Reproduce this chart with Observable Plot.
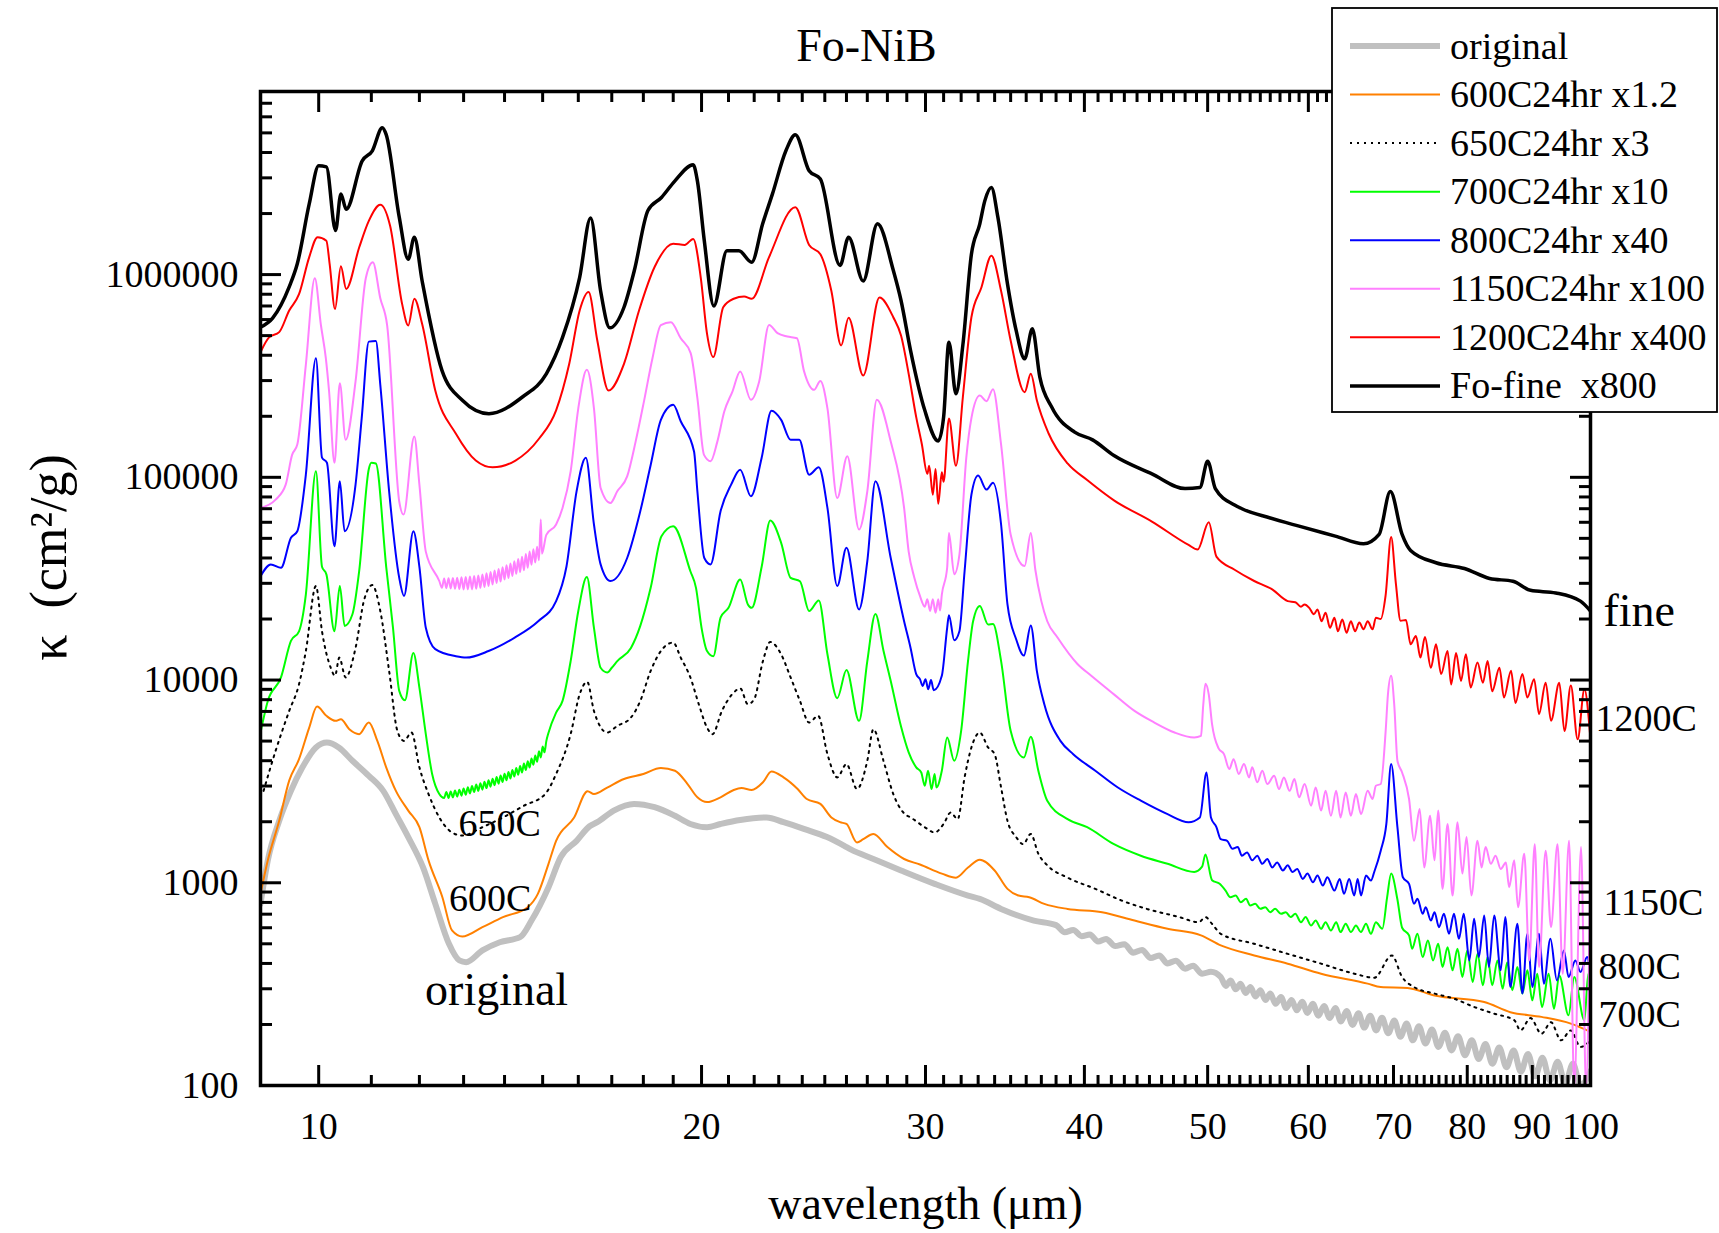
<!DOCTYPE html>
<html><head><meta charset="utf-8">
<script src="https://cdn.jsdelivr.net/npm/d3@7"></script>
<script src="https://cdn.jsdelivr.net/npm/@observablehq/plot@0.6"></script>
<style>body{margin:0;background:#fff;} #chart{width:1719px;height:1233px;}</style>
</head><body><div id="chart"></div>
<script>
// ---------- tick values / labels ----------
const xMajorTicks = [10, 20, 30, 40, 50, 60, 70, 80, 90, 100];
const xTickLabels = ["10", "20", "30", "40", "50", "60", "70", "80", "90", "100"];
const yMajorTicks = [100, 1000, 10000, 100000, 1000000];
const yTickLabels = ["100", "1000", "10000", "100000", "1000000"];

// ---------- series values: [wavelength (um), kappa (cm2/g)] ----------
const original = [[9.0,787],[9.12,1290],[9.31,2020],[9.51,2840],[9.71,3710],[9.95,4650],[10.15,4920],[10.37,4650],[10.63,4000],[10.95,3370],[11.24,2840],[11.5,2180],[11.76,1680],[12.08,1190],[12.35,787],[12.66,500],[12.9,414],[13.06,406],[13.45,464],[13.88,509],[14.4,539],[14.7,651],[15.16,951],[15.5,1340],[15.95,1610],[16.33,1900],[16.56,1990],[17.06,2270],[17.7,2450],[18.37,2360],[19.06,2140],[19.6,1950],[20.2,1880],[20.7,1950],[21.45,2040],[22.5,2100],[23.2,1990],[24.1,1840],[25.1,1680],[25.9,1520],[26.2,1460],[27.3,1310],[28.7,1150],[30.5,988],[32.4,865],[33.1,833],[34.4,743],[36.5,651],[38.0,618],[38.6,570],[39.2,585],[39.8,545],[40.4,556],[41.0,513],[41.6,528],[42.3,487],[43.0,498],[43.7,452],[44.4,466],[45.1,425],[45.8,438],[46.5,400],[47.2,413],[48.0,377],[48.7,390],[49.5,356],[50.3,364],[51.2,343],[51.66,310],[52.13,330],[52.6,298],[53.07,318],[53.55,286],[54.03,306],[54.52,275],[55.01,295],[55.51,264],[56.01,284],[56.55,253],[57.1,273],[57.64,241],[58.2,264],[58.76,235],[59.33,259],[59.9,228],[60.48,253],[61.11,221],[61.73,247],[62.37,215],[63.0,241],[63.65,207],[64.3,233],[65.0,199],[65.7,227],[66.4,193],[67.11,221],[67.83,187],[68.56,216],[69.33,181],[70.1,209],[70.89,174],[71.68,202],[72.49,167],[73.3,196],[74.17,161],[75.05,189],[75.94,155],[76.84,182],[77.75,149],[78.68,175],[79.67,141],[80.66,167],[81.67,135],[82.69,160],[83.72,128],[84.77,154],[85.88,123],[87.0,149],[88.15,117],[89.3,143],[90.47,111],[91.66,137],[92.93,106],[94.22,131],[95.53,102],[96.86,128],[98.21,100],[100,118]];

const c600 = [[9.0,881],[9.12,1290],[9.31,2020],[9.48,3190],[9.65,4070],[9.83,5830],[9.97,7400],[10.14,6660],[10.31,6290],[10.41,6400],[10.57,5720],[10.76,5410],[10.95,6170],[11.12,5010],[11.3,3710],[11.5,2840],[11.76,2270],[12.0,1880],[12.2,1290],[12.51,849],[12.73,582],[12.97,543],[13.45,604],[13.96,677],[14.6,758],[14.87,881],[15.16,1240],[15.37,1610],[15.88,2100],[16.27,2830],[16.46,2740],[16.86,2950],[17.38,3250],[18.0,3440],[18.58,3680],[19.06,3570],[19.5,3070],[19.85,2640],[20.2,2500],[20.7,2640],[21.2,2870],[21.5,2930],[21.9,2870],[22.35,3130],[22.7,3540],[23.2,3310],[23.8,2900],[24.2,2590],[24.8,2450],[25.3,2100],[25.7,1990],[26.0,1950],[26.5,1580],[26.8,1640],[27.3,1740],[28.0,1500],[28.86,1310],[29.7,1230],[30.9,1110],[31.7,1060],[32.4,1190],[33.1,1300],[34.0,1150],[34.8,933],[35.5,865],[36.2,849],[37.2,787],[38.8,743],[41.3,716],[43.8,651],[46.5,593],[49.4,550],[51.2,491],[54.4,438],[57.8,399],[61.4,356],[66.8,318],[68.4,306],[71.8,303],[75.4,278],[82.5,258],[86.5,230],[91.5,218],[96.5,202],[100,184]];

const c650 = [[9.05,2840],[9.25,4480],[9.48,7040],[9.65,9530],[9.77,13900],[9.95,29100],[10.06,17400],[10.22,11500],[10.3,10500],[10.38,12900],[10.5,10300],[10.69,14400],[10.86,25000],[11.02,29400],[11.18,21900],[11.36,11100],[11.53,5620],[11.67,5010],[11.83,5510],[12.0,3710],[12.2,2740],[12.44,2100],[12.73,1770],[12.97,1710],[13.45,1880],[13.96,2100],[14.5,2400],[15.07,2740],[15.37,3440],[15.78,5410],[16.04,8510],[16.26,9800],[16.46,7040],[16.86,5510],[17.17,5940],[17.6,6530],[17.9,7890],[18.24,11100],[18.58,13900],[19.0,15300],[19.26,12900],[19.6,10300],[19.9,7600],[20.2,5830],[20.4,5410],[20.75,7040],[21.2,8670],[21.45,9100],[21.75,7600],[22.0,8040],[22.35,12400],[22.65,15400],[23.1,13400],[23.5,10300],[23.9,7890],[24.3,6170],[24.7,6660],[25.12,4310],[25.57,3310],[26.0,3850],[26.5,2900],[27.0,4000],[27.3,5720],[27.8,4000],[28.3,2740],[28.9,2180],[29.2,2100],[29.96,1880],[30.5,1770],[31.0,1950],[31.4,2220],[31.8,2060],[32.2,3310],[32.6,4650],[33.1,5510],[33.6,4650],[34.0,4310],[34.4,2950],[34.8,2020],[35.35,1680],[35.8,1550],[36.3,1740],[36.8,1390],[37.4,1220],[38.8,1060],[40.8,933],[42.8,817],[44.8,743],[47.5,677],[49.2,639],[49.8,677],[50.4,627],[51.2,560],[54.4,500],[57.8,446],[61.4,399],[65.2,356],[67.6,340],[69.8,438],[71.1,343],[72.65,306],[75.4,284],[78.1,268],[81.0,244],[84.0,226],[87.1,210],[88.1,187],[89.7,215],[91.5,180],[93.1,205],[94.8,167],[96.5,187],[98.2,155],[100,167]];

const c700 = [[9.0,5510],[9.12,7890],[9.34,10300],[9.51,15600],[9.65,17400],[9.77,26400],[9.95,107000],[10.06,36200],[10.14,33200],[10.29,17400],[10.39,29100],[10.48,18500],[10.63,21100],[10.76,34400],[10.95,110000],[11.0,118000],[11.09,117000],[11.3,36200],[11.44,18100],[11.57,8840],[11.69,7950],[11.87,13600],[12.0,9180],[12.14,5410],[12.28,3440],[12.44,2740],[12.55,2620],
[12.6,2800],[12.65,2620],[12.7,2820],[12.75,2640],[12.8,2850],[12.85,2660],[12.9,2880],[12.95,2690],[13.0,2920],[13.05,2720],[13.1,2960],[13.15,2760],[13.2,3000],[13.25,2800],[13.3,3050],[13.35,2840],[13.4,3100],[13.45,2880],[13.5,3150],[13.55,2930],[13.6,3200],[13.65,2980],[13.7,3260],[13.75,3030],[13.8,3320],[13.85,3080],[13.9,3380],[13.95,3140],[14.0,3450],[14.05,3200],[14.1,3520],[14.15,3270],[14.2,3600],[14.25,3340],[14.3,3680],[14.35,3410],[14.4,3770],[14.45,3500],[14.5,3870],[14.55,3600],[14.6,3980],[14.65,3700],[14.7,4100],[14.75,3820],[14.8,4250],[14.85,3950],[14.9,4450],[14.95,4150],[15.0,4700],[15.05,4400],[15.1,5000],[15.16,5500],
[15.37,6910],[15.55,7890],[15.78,12400],[16.0,21900],[16.25,32200],[16.46,18100],[16.66,11500],[16.86,10900],[17.0,11500],[17.17,12400],[17.6,14400],[17.9,18500],[18.24,28500],[18.6,51200],[19.0,57400],[19.6,34400],[19.8,28500],[20.0,18100],[20.2,13900],[20.43,13100],[20.7,20300],[21.0,22700],[21.45,31300],[21.75,23600],[21.9,22700],[22.3,36200],[22.65,61200],[23.1,47500],[23.5,31900],[23.9,30700],[24.3,21900],[24.73,24700],[25.12,13400],[25.57,8140],[26.0,11200],[26.6,6290],[27.0,12400],[27.4,21200],[27.8,14000],[28.17,9900],[28.7,5900],[29.1,4400],[29.5,3710],[29.77,3500],[29.96,3010],[30.14,3570],[30.33,2900],[30.5,3440],[30.6,2950],[30.9,3570],[31.2,5210],[31.6,4000],[32.0,5620],[32.4,12400],[32.7,19500],[33.1,23200],[33.6,18800],[33.9,18900],[34.4,12400],[35.0,5620],[35.85,4150],[36.3,5250],[36.8,3570],[37.4,2540],[38.8,2060],[40.2,1880],[42.2,1550],[44.3,1360],[46.5,1240],[48.8,1130],[49.5,1200],[49.8,1380],[50.4,1030],[51.1,988],
[51.65,915],[52.1,849],[52.6,865],[53.1,802],[53.6,833],[54.0,772],[54.5,787],[55.0,744],[55.5,758],[56.0,716],[56.5,744],[57.1,703],[57.6,716],[58.1,677],[58.6,703],[59.2,639],[59.7,677],[60.3,615],[60.8,651],[61.4,593],[61.9,639],[62.5,582],[63.1,639],[63.6,571],[64.2,627],[64.8,571],[65.4,615],[66.0,571],[66.6,627],[67.2,560],[67.8,639],[68.6,593],[69.2,849],[69.7,1110],[70.5,827],[71.1,600],[72.0,550],
[72.4,473],[73.1,560],[73.8,430],[74.5,519],[75.2,414],[75.9,500],[76.5,384],[77.2,481],[77.9,370],[78.6,473],[79.3,343],[80.0,464],[80.8,324],[81.5,446],[82.3,312],[83.0,430],[83.7,312],[84.5,414],[85.3,300],[86.0,406],[86.8,295],[87.6,384],[88.4,284],[89.2,370],[90.0,263],[90.8,356],[91.6,244],[92.7,356],[93.6,239],[94.5,349],[96.1,222],[97.1,343],[98.9,210],[99.6,356],[100,306]];

const c800 = [[9.0,32500],[9.17,37200],[9.34,35800],[9.51,50300],[9.62,54200],[9.77,103000],[9.95,387000],[10.06,125000],[10.15,118000],[10.29,45700],[10.39,95600],[10.48,54200],[10.69,92000],[10.81,196000],[10.95,467000],[11.09,470000],[11.18,286000],[11.36,85300],[11.57,31900],[11.67,26000],[11.87,54200],[12.0,36200],[12.14,18100],[12.35,14200],[12.82,13100],[13.06,12900],[13.6,13900],[14.26,16200],[14.88,19500],[15.37,24500],[15.66,36200],[15.95,85300],[16.22,125000],[16.46,58500],[16.66,37200],[16.96,30800],[17.48,40000],[17.9,68000],[18.24,115000],[18.58,192000],[19.0,228000],[19.26,189000],[19.73,134000],[19.85,85300],[20.1,40000],[20.33,37200],[20.7,68000],[21.1,92000],[21.45,109000],[21.87,80600],[22.3,125000],[22.7,213000],[23.1,192000],[23.5,153000],[23.87,153000],[24.3,103000],[24.73,112000],[25.12,70600],[25.57,29100],[26.0,44900],[26.6,22300],[27.0,38600],[27.4,95600],[28.17,40000],[28.86,19500],[29.2,14400],[29.5,10700],[29.7,10100],[29.85,9350],[30.0,10100],[30.15,9000],[30.3,10000],[30.45,8900],[30.9,10500],[31.2,18100],[31.3,20900],[31.6,15700],[31.9,17400],[32.2,34400],[32.6,82000],[33.0,102000],[33.5,87000],[33.9,94000],[34.4,58500],[34.8,23600],[35.35,15900],[35.85,13200],[36.3,18600],[36.7,11100],[37.2,7600],[38.3,5010],[39.2,4310],[40.8,3570],[42.5,2950],[44.3,2540],[46.5,2180],[48.3,1990],[49.3,2100],[49.9,3500],[50.3,2100],[50.8,1880],
[51.2,1640],[51.8,1610],[52.3,1470],[52.8,1500],[53.2,1360],[53.7,1410],[54.2,1290],[54.7,1360],[55.2,1240],[55.7,1310],[56.2,1190],[56.7,1260],[57.3,1150],[57.8,1220],[58.3,1130],[58.8,1170],[59.4,1045],[59.9,1110],[60.5,1006],[61.0,1085],[61.6,969],[62.1,1065],[62.9,915],[63.5,1045],[64.0,882],[64.6,1045],[65.2,865],[65.6,1045],[66.0,865],[66.6,1085],[67.2,1025],[67.6,1130],[68.4,1440],[69.1,1950],[69.7,3850],[70.5,1880],[71.2,1065],[72.0,988],
[72.65,787],[73.1,833],[73.8,703],[74.2,758],[74.9,651],[75.4,716],[76.0,604],[76.7,703],[77.4,560],[78.1,703],[78.8,529],[79.5,703],[80.3,414],[81.0,664],[81.7,430],[82.5,690],[83.2,384],[84.0,690],[85.0,370],[85.7,677],[86.5,306],[87.6,627],[88.4,284],[89.2,560],[90.0,306],[91.1,560],[91.9,318],[93.0,529],[94.1,330],[95.3,464],[96.1,343],[97.3,414],[98.2,363],[99.4,430],[100,330]];

const c1150 = [[9.0,70600],[9.25,77600],[9.42,92000],[9.53,129000],[9.62,145000],[9.77,359000],[9.93,958000],[10.04,564000],[10.13,387000],[10.19,265000],[10.29,118000],[10.39,291000],[10.5,153000],[10.69,297000],[10.89,960000],[11.03,1150000],[11.18,764000],[11.32,560000],[11.57,76000],[11.66,65500],[11.89,159000],[12.0,92000],[12.14,43000],[12.44,30800],
[12.5,28500],[12.55,31700],[12.6,28400],[12.65,31800],[12.7,28300],[12.75,31900],[12.8,28200],[12.85,32000],[12.9,28100],[12.95,32100],[13.0,28000],[13.05,32200],[13.1,28000],[13.15,32400],[13.2,28000],[13.25,32600],[13.3,28200],[13.35,32800],[13.4,28500],[13.45,33200],[13.5,28800],[13.55,33600],[13.6,29100],[13.65,34100],[13.7,29600],[13.75,34700],[13.8,30100],[13.85,35300],[13.9,30600],[13.95,36000],[14.0,31300],[14.05,36800],[14.1,31900],[14.15,37600],[14.2,32600],[14.25,38500],[14.3,33400],[14.35,39500],[14.4,34100],[14.45,40600],[14.5,34800],[14.55,41800],[14.6,35800],[14.65,43000],[14.7,37000],[14.75,44200],[14.8,38000],[14.85,45500],[14.9,39000],[14.95,62000],[14.98,42000],
[15.1,52000],[15.37,58500],[15.55,70600],[15.78,107000],[16.0,219000],[16.25,339000],[16.46,219000],[16.66,88600],[16.96,74700],[17.17,85300],[17.48,101000],[17.75,150000],[18.02,237000],[18.3,387000],[18.58,564000],[18.92,582000],[19.26,485000],[19.61,410000],[19.85,246000],[20.09,129000],[20.33,120000],[20.58,150000],[20.84,211000],[21.15,265000],[21.45,333000],[21.87,241000],[22.2,297000],[22.6,564000],[22.95,514000],[23.36,495000],[23.77,485000],[24.08,333000],[24.52,270000],[24.8,299000],[25.12,219000],[25.57,79100],[26.04,127000],[26.6,55300],[27.0,85300],[27.47,241000],[28.17,150000],[28.86,70600],[29.1,43000],[29.4,32000],[29.7,26000],[29.96,23000],[30.1,25000],[30.25,21900],[30.4,25000],[30.55,21500],[30.7,25000],[30.8,22000],[30.9,26400],[31.2,35800],[31.3,53200],[31.6,33300],[31.9,41600],[32.3,125000],[32.6,196000],[33.1,253000],[33.5,237000],[33.9,272000],[34.4,145000],[35.0,52200],[35.9,36500],[36.3,53200],[36.6,35000],[37.0,24500],[37.4,19500],[38.1,16200],[39.5,12000],[40.5,10500],[42.2,8500],[43.8,7040],[45.4,6170],[47.1,5510],[48.8,5210],[49.4,5300],[49.6,7500],[49.8,9600],[50.1,8500],[50.4,6060],[51.0,4600],
[51.5,4310],[52.0,3640],[52.4,4070],[52.9,3440],[53.4,3850],[53.9,3310],[54.2,3710],[54.7,3130],[55.2,3570],[55.7,3070],[56.4,3370],[56.9,2900],[57.4,3310],[58.0,2840],[58.5,3250],[59.0,2640],[59.6,3070],[60.3,2400],[60.8,2950],[61.4,2270],[61.9,2840],[62.5,2140],[63.1,2840],[63.6,2100],[64.2,2790],[64.8,2140],[65.4,2740],[66.0,2180],[66.8,2840],[67.4,2590],[67.8,3010],[68.4,3070],[69.0,5500],[69.3,8500],[69.7,10500],[70.1,7500],[70.5,4000],[71.1,3500],[72.0,2590],
[72.65,1610],[73.4,2310],[74.0,1190],[74.8,2140],[75.4,1290],[75.9,2270],[76.5,933],[77.2,1950],[77.9,865],[78.6,1990],[79.3,1110],[79.9,1680],[80.6,865],[81.5,1610],[82.1,1190],[82.7,1500],[83.5,1240],[84.2,1360],[85.0,1170],[85.8,1260],[86.3,951],[87.1,1290],[87.7,758],[88.7,1390],[89.5,414],[90.4,1550],[91.1,384],[92.2,1440],[93.1,604],[94.2,1550],[95.1,356],[96.2,1610],[97.1,98],[98.3,1500],[99.2,98],[100,1680]];

const c1200 = [[9.0,414000],[9.14,490000],[9.31,520000],[9.48,665000],[9.65,800000],[9.83,1220000],[9.98,1530000],[10.14,1470000],[10.2,1130000],[10.3,677000],[10.41,1100000],[10.51,850000],[10.76,1360000],[10.95,1840000],[11.18,2210000],[11.38,1740000],[11.63,717000],[11.76,561000],[11.89,760000],[12.06,570000],[12.35,268000],[12.82,164000],[13.29,121000],[13.7,112000],[14.28,121000],[14.9,155000],[15.37,214000],[15.74,363000],[16.04,665000],[16.3,820000],[16.56,473000],[16.9,268000],[17.38,363000],[17.86,665000],[18.37,1090000],[19.0,1420000],[19.4,1400000],[19.7,1500000],[19.97,970000],[20.2,510000],[20.43,392000],[20.8,690000],[21.2,760000],[21.6,780000],[21.9,760000],[22.6,1220000],[23.7,2150000],[24.3,1400000],[24.8,1260000],[25.3,830000],[25.75,447000],[26.1,612000],[26.8,318000],[27.6,770000],[28.3,616000],[28.7,500000],[29.1,324000],[29.5,198000],[29.8,146000],[30.1,104000],[30.2,114000],[30.4,82000],[30.55,110000],[30.7,74000],[30.9,106000],[31.0,95000],[31.3,195000],[31.7,114000],[32.1,249000],[32.6,616000],[33.2,866000],[33.8,1240000],[34.4,830000],[35.0,473000],[35.9,263000],[36.3,324000],[36.7,240000],[37.5,164000],[38.8,117000],[40.2,97000],[42.2,77000],[45.2,60500],[48.3,46400],[49.1,44000],[50.1,60000],[50.8,40600],[52.5,35000],[54.4,30800],[56.2,28000],[57.8,24500],[58.6,24200],[59.2,23000],[59.6,23600],[60.1,22700],[60.6,21100],[61.0,22300],[61.45,19500],[61.9,21500],[62.4,18100],[62.9,20300],[63.3,17400],[63.8,19900],[64.3,17100],[64.8,19500],[65.3,17400],[65.8,19200],[66.3,17800],[66.8,19500],[67.4,17800],[67.8,20300],[68.4,20000],[69.0,26000],[69.7,50700],[70.3,30000],[70.9,19600],[71.6,19800],[72.2,15000],[72.9,16500],[73.5,12900],[74.1,16300],[74.9,11500],[75.6,15000],[76.3,10700],[77.2,13900],[77.7,9500],[78.4,13600],[79.1,9900],[79.8,13400],[80.5,9200],[81.5,12200],[82.3,9700],[83.0,12400],[83.7,8800],[84.8,11500],[85.5,8200],[86.6,11100],[87.3,7700],[88.4,10700],[89.2,8200],[90.3,10100],[91.1,6800],[92.2,9700],[93.1,6300],[94.5,9700],[95.4,5600],[96.5,9400],[97.7,5100],[98.9,9000],[99.9,5500]];

const fine = [[9.0,550000],[9.2,610000],[9.48,870000],[9.62,1130000],[9.83,2230000],[10.0,3440000],[10.14,3400000],[10.31,1650000],[10.41,2500000],[10.51,2100000],[10.82,3640000],[11.02,4080000],[11.22,5300000],[11.3,4900000],[11.57,1920000],[11.76,1190000],[11.89,1530000],[12.06,930000],[12.5,337000],[12.97,240000],[13.61,206000],[14.46,249000],[15.1,324000],[15.55,490000],[16.04,970000],[16.36,1900000],[16.66,830000],[16.94,546000],[17.38,690000],[17.71,1050000],[18.15,2070000],[18.6,2400000],[19.06,2900000],[19.7,3480000],[19.85,2900000],[20.1,1470000],[20.45,700000],[20.94,1310000],[21.4,1310000],[21.9,1150000],[22.34,1780000],[22.74,2500000],[23.3,4080000],[23.7,4890000],[24.3,3250000],[24.8,2960000],[25.7,1110000],[26.1,1530000],[26.8,930000],[27.5,1780000],[28.3,1050000],[28.7,745000],[29.2,422000],[29.96,214000],[30.7,151000],[31.0,198000],[31.3,464000],[31.7,258000],[32.1,450000],[32.6,1260000],[33.1,1780000],[33.4,2310000],[33.8,2690000],[34.2,1920000],[34.8,900000],[35.35,530000],[35.9,384000],[36.4,540000],[36.9,312000],[37.7,222000],[39.3,167000],[40.6,153000],[42.2,128000],[45.2,104000],[48.0,88000],[49.3,89000],[50.0,120000],[50.7,88000],[52.5,73000],[53.2,70000],[56.0,63000],[59.0,57400],[63.0,51300],[66.3,47000],[68.2,52300],[69.6,85000],[71.1,52300],[72.2,43600],[75.6,37900],[79.6,35500],[83.3,31700],[86.9,30700],[89.7,27700],[93.9,26900],[98.2,24500],[100,21900]];

// ---------- series styling + legend text ----------
const series = [
  {key: "original", legend: "original", data: original, stroke: "#c0c0c0", width: 6, dash: null},
  {key: "600C", legend: "600C24hr x1.2", data: c600, stroke: "#ff8000", width: 2, dash: null},
  {key: "650C", legend: "650C24hr x3", data: c650, stroke: "#000000", width: 2, dash: "2,5"},
  {key: "700C", legend: "700C24hr x10", data: c700, stroke: "#00ff00", width: 2, dash: null},
  {key: "800C", legend: "800C24hr x40", data: c800, stroke: "#0000ff", width: 2, dash: null},
  {key: "1150C", legend: "1150C24hr x100", data: c1150, stroke: "#ff80ff", width: 2, dash: null},
  {key: "1200C", legend: "1200C24hr x400", data: c1200, stroke: "#ff0000", width: 2, dash: null},
  {key: "fine", legend: "Fo-fine  x800", data: fine, stroke: "#000000", width: 3.5, dash: null}
];

// curve annotations (data coordinates)
const curveLabels = [
  {text: "fine", lambda: 100, kappa: 21900, size: 46, dx: 13, anchor: "start"},
  {text: "1200C", lambda: 100, kappa: 6430, size: 38, dx: 5, anchor: "start"},
  {text: "1150C", lambda: 100, kappa: 798, size: 38, dx: 13, anchor: "start"},
  {text: "800C", lambda: 100, kappa: 386, size: 38, dx: 8, anchor: "start"},
  {text: "700C", lambda: 100, kappa: 224, size: 38, dx: 8, anchor: "start"},
  {text: "650C", lambda: 13.88, kappa: 1950, size: 38, dx: 0, anchor: "middle"},
  {text: "600C", lambda: 13.64, kappa: 835, size: 38, dx: 0, anchor: "middle"},
  {text: "original", lambda: 13.8, kappa: 294, size: 46, dx: 0, anchor: "middle"}
];

const rows = series.flatMap(s => s.data.map(([l, k]) => ({key: s.key, lambda: l, kappa: k})));

const xMinorTicks = d3.range(9, 100).filter(v => v % 10 !== 0);
const yMinorTicks = [];
for (const base of [100, 1000, 10000, 100000, 1000000]) for (let m = 2; m <= 9; m++) if (base * m < 8e6) yMinorTicks.push(base * m);

const font = "'Liberation Serif', 'Times New Roman', serif";
const tk = {stroke: "black", strokeWidth: 3, fill: "none", label: null};

const lineMarks = series.map(s => Plot.line(rows.filter(r => r.key === s.key).sort((a, b) => a.lambda - b.lambda), {
  x: "lambda", y: "kappa", stroke: s.stroke, strokeWidth: s.width,
  strokeDasharray: s.dash, curve: "monotone-x", clip: true, strokeLinejoin: "round"
}));

const labelMarks = [13, 8, 5].map(dx => Plot.text(curveLabels.filter(d => d.anchor === "start" && d.dx === dx), {
  x: "lambda", y: "kappa", text: "text", fontSize: d => d.size, dx, textAnchor: "start", lineAnchor: "middle", fill: "black"
}));

const chart = Plot.plot({
  width: 1719, height: 1233,
  marginLeft: 260, marginRight: 129, marginTop: 91, marginBottom: 148,
  x: {type: "log", domain: [9, 100]},
  y: {type: "log", domain: [100, 8e6]},
  style: {fontFamily: font, background: "white", color: "black", overflow: "visible"},
  marks: [
    ...lineMarks,
    Plot.axisX(xMajorTicks, {anchor: "bottom", tickSize: 20, insetBottom: 20, ...tk}),
    Plot.axisX(xMinorTicks, {anchor: "bottom", tickSize: 10, insetBottom: 10, ...tk}),
    Plot.axisX(xMajorTicks, {anchor: "top", tickSize: 20, insetTop: 20, ...tk}),
    Plot.axisX(xMinorTicks, {anchor: "top", tickSize: 10, insetTop: 10, ...tk}),
    Plot.axisY(yMajorTicks, {anchor: "left", tickSize: 21, insetLeft: 21, ...tk}),
    Plot.axisY(yMinorTicks, {anchor: "left", tickSize: 12, insetLeft: 12, ...tk}),
    Plot.axisY(yMajorTicks, {anchor: "right", tickSize: 21, insetRight: 21, ...tk}),
    Plot.axisY(yMinorTicks, {anchor: "right", tickSize: 12, insetRight: 12, ...tk}),
    Plot.axisX(xMajorTicks, {anchor: "bottom", tickSize: 0, tickPadding: 27, fontSize: 38, fill: "black",
      tickFormat: d => xTickLabels[xMajorTicks.indexOf(d)], label: null}),
    Plot.axisY(yMajorTicks, {anchor: "left", tickSize: 0, tickPadding: 22, fontSize: 38, fill: "black",
      tickFormat: d => yTickLabels[yMajorTicks.indexOf(d)], label: null}),
    Plot.frame({stroke: "black", strokeWidth: 3.5}),
    Plot.text(["Fo-NiB"], {frameAnchor: "top", lineAnchor: "middle", textAnchor: "middle", dx: -59, dy: -45, fontSize: 46, fill: "black"}),
    Plot.text(["wavelength (μm)"], {frameAnchor: "bottom", lineAnchor: "middle", textAnchor: "middle", dy: 119, fontSize: 46, fill: "black"}),
    Plot.text(["κ  (cm²/g)"], {frameAnchor: "left", lineAnchor: "middle", textAnchor: "middle", rotate: -90, dx: -211, dy: -31, fontSize: 52, fill: "black"}),
    ...labelMarks,
    Plot.text(curveLabels.filter(d => d.anchor === "middle"), {x: "lambda", y: "kappa", text: "text", fontSize: d => d.size,
      textAnchor: "middle", lineAnchor: "middle", fill: "black"})
  ]
});
document.getElementById("chart").appendChild(chart);

// legend box (drawn over the top-right corner of the frame)
const svg = d3.select(chart);
const lg = svg.append("g");
lg.append("rect").attr("x", 1332).attr("y", 8).attr("width", 385).attr("height", 404)
  .attr("fill", "white").attr("stroke", "black").attr("stroke-width", 1.8);
series.forEach((s, i) => {
  const y = 46 + i * 48.56;
  lg.append("line").attr("x1", 1350).attr("x2", 1440).attr("y1", y).attr("y2", y)
    .attr("stroke", s.stroke).attr("stroke-width", s.width).attr("stroke-dasharray", s.dash);
  lg.append("text").attr("x", 1450).attr("y", y).attr("dy", "0.33em")
    .attr("text-anchor", "start")
    .style("white-space", "pre").style("font-family", font).style("font-size", "38px")
    .attr("fill", "black").text(s.legend);
});
</script></body></html>
